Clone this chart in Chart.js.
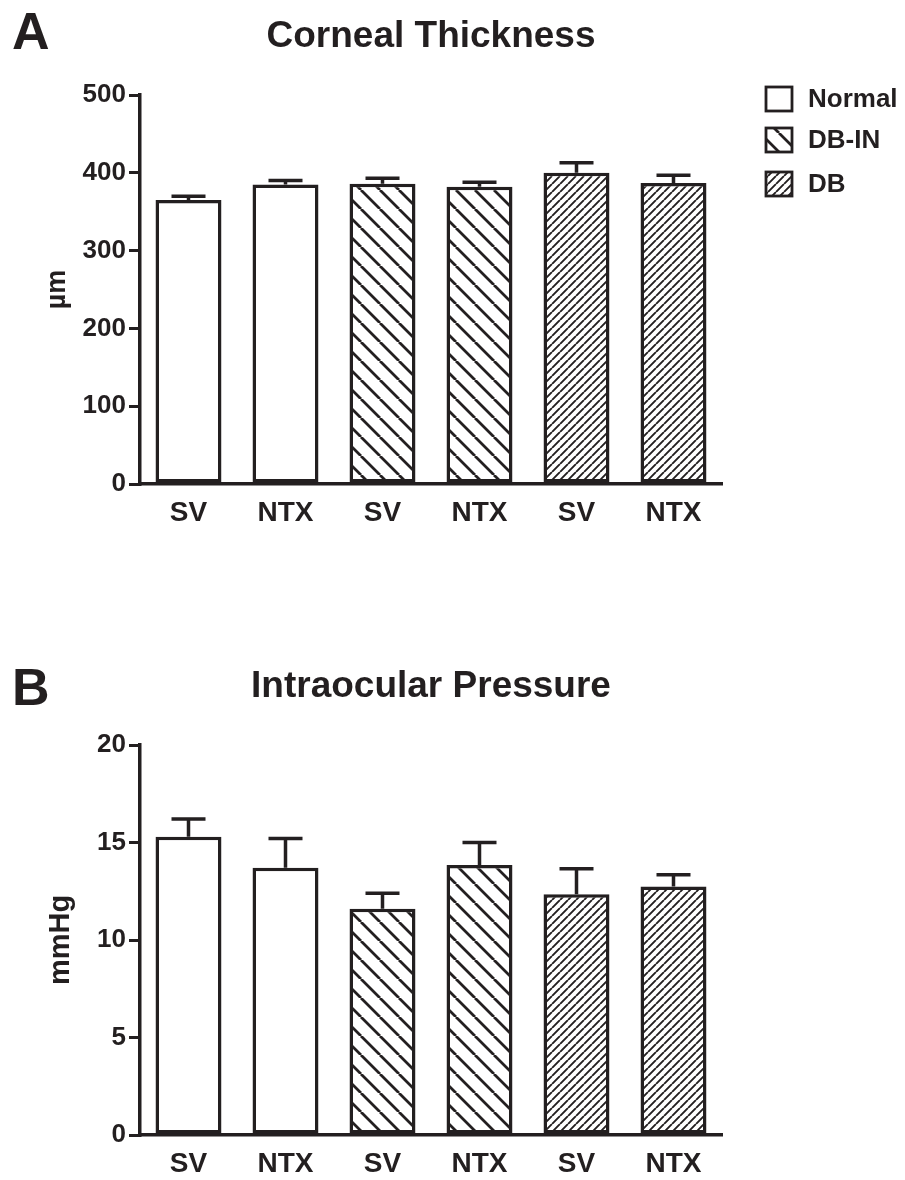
<!DOCTYPE html>
<html>
<head>
<meta charset="utf-8">
<script src="https://cdn.jsdelivr.net/npm/chart.js@4/dist/chart.umd.min.js"></script>
<style>
html,body{margin:0;padding:0;background:#fff;}
#wrap{position:relative;width:905px;height:1180px;}
#chartA{position:absolute;left:0;top:0;}
#chartB{position:absolute;left:0;top:580px;}
</style>
</head>
<body>
<div id="wrap">
<canvas id="chartA" width="905" height="580"></canvas>
<canvas id="chartB" width="905" height="600"></canvas>
</div>
<script>
// data
var categories = ['SV', 'NTX', 'SV', 'NTX', 'SV', 'NTX'];
var groups = ['Normal', 'Normal', 'DB-IN', 'DB-IN', 'DB', 'DB'];
var groupNames = ['Normal', 'DB-IN', 'DB'];
var thickness = [365, 385, 386, 382, 400, 387];
var thicknessSem = [5, 5, 7, 6, 13, 10];
var thicknessTicks = [0, 100, 200, 300, 400, 500];
var pressure = [15.3, 13.7, 11.6, 13.85, 12.35, 12.75];
var pressureSem = [0.9, 1.5, 0.8, 1.15, 1.3, 0.6];
var pressureTicks = [0, 5, 10, 15, 20];

var INK = '#231f20';
var FONT = '"Liberation Sans", Arial, sans-serif';

// hatch fills
function hatch(step, lw, dir){
	var c = document.createElement('canvas');
	c.width = step; c.height = step;
	var g = c.getContext('2d');
	g.fillStyle = '#fff';
	g.fillRect(0, 0, step, step);
	g.strokeStyle = INK;
	g.lineWidth = lw;
	g.beginPath();
	for (var k = -1; k <= 1; k++) {
		if (dir == 'back') { g.moveTo(k*step, 0); g.lineTo(k*step + step, step); }
		else { g.moveTo(k*step, step); g.lineTo(k*step + step, 0); }
	}
	g.stroke();
	return g.createPattern(c, 'repeat');
}
var fills = {
	'Normal': '#ffffff',
	'DB-IN': hatch(19, 2.8, 'back'),
	'DB': hatch(8, 1.9, 'fwd')
};

// error bars (upper SEM only)
var errorBars = {
	id: 'errorBars',
	afterDatasetsDraw: function(chart){
		var ctx = chart.ctx, ds = chart.data.datasets[0];
		var meta = chart.getDatasetMeta(0), y = chart.scales.y;
		ctx.save();
		ctx.strokeStyle = INK;
		ctx.lineWidth = 3.5;
		meta.data.forEach(function(bar, i){
			var top = y.getPixelForValue(ds.data[i] + ds.errors[i]);
			ctx.beginPath();
			ctx.moveTo(bar.x, bar.y);
			ctx.lineTo(bar.x, top);
			ctx.moveTo(bar.x - 17, top);
			ctx.lineTo(bar.x + 17, top);
			ctx.stroke();
		});
		ctx.restore();
	}
};

// panel letter, title and (optional) legend
function labels(letter, title, letterY, titleY, showLegend){
	return {
		id: 'labels',
		afterDraw: function(chart){
			var ctx = chart.ctx, area = chart.chartArea;
			ctx.save();
			ctx.fillStyle = INK;
			ctx.textBaseline = 'alphabetic';
			ctx.textAlign = 'left';
			ctx.font = 'bold 52px ' + FONT;
			ctx.fillText(letter, 12, letterY);
			ctx.textAlign = 'center';
			ctx.font = 'bold 37px ' + FONT;
			ctx.fillText(title, (area.left + area.right) / 2, titleY);
			if (showLegend) {
				ctx.textAlign = 'left';
				ctx.textBaseline = 'middle';
				ctx.font = 'bold 26px ' + FONT;
				ctx.lineWidth = 2.8;
				ctx.strokeStyle = INK;
				var rows = [87, 128, 172];
				groupNames.forEach(function(name, i){
					ctx.fillStyle = fills[name];
					ctx.fillRect(766, rows[i], 26, 24);
					ctx.strokeRect(766, rows[i], 26, 24);
					ctx.fillStyle = INK;
					ctx.fillText(name, 808, rows[i] + 13);
				});
			}
			ctx.restore();
		}
	};
}

function bar_chart(id, values, errors, ticks, yTitle, titleSize, titlePad, padTop, padBottom, letter, title, letterY, titleY, showLegend){
	var ctx = document.getElementById(id).getContext('2d');
	var yMax = ticks[ticks.length - 1];
	var step = ticks[1] - ticks[0];
	return new Chart(ctx, {
		type: 'bar',
		data: {
			labels: categories,
			datasets: [{
				data: values,
				errors: errors,
				backgroundColor: groups.map(function(g){ return fills[g]; }),
				borderColor: INK,
				borderWidth: 3.5,
				borderSkipped: false,
				barPercentage: 0.68,
				categoryPercentage: 1
			}]
		},
		options: {
			responsive: false,
			animation: false,
			devicePixelRatio: 1,
			layout: { padding: { left: 0, right: 183, top: padTop, bottom: padBottom } },
			plugins: { legend: { display: false }, tooltip: { enabled: false } },
			scales: {
				x: {
					grid: { display: false, drawTicks: false },
					border: { display: true, color: INK, width: 3.5 },
					ticks: { color: INK, padding: 12, font: { family: FONT, size: 28, weight: 'bold' } },
					afterFit: function(s){ s.height = 45; }
				},
				y: {
					min: 0, max: yMax,
					grid: { drawOnChartArea: false, drawTicks: true, tickLength: 11, color: INK, lineWidth: 3 },
					border: { display: true, color: INK, width: 3.5 },
					ticks: { stepSize: step, color: INK, padding: 3, font: { family: FONT, size: 26, weight: 'bold' } },
					title: { display: true, text: yTitle, color: INK, font: { family: FONT, size: titleSize, weight: 'bold' }, padding: { top: titlePad, bottom: 0 } },
					afterFit: function(s){ s.width = 140; }
				}
			}
		},
		plugins: [errorBars, labels(letter, title, letterY, titleY, showLegend)]
	});
}

bar_chart('chartA', thickness, thicknessSem, thicknessTicks, 'µm', 27, 41, 95, 51, 'A', 'Corneal Thickness', 49, 47, true);
bar_chart('chartB', pressure, pressureSem, pressureTicks, 'mmHg', 29, 44, 165, 0, 'B', 'Intraocular Pressure', 125, 117, false);
</script>
</body>
</html>
